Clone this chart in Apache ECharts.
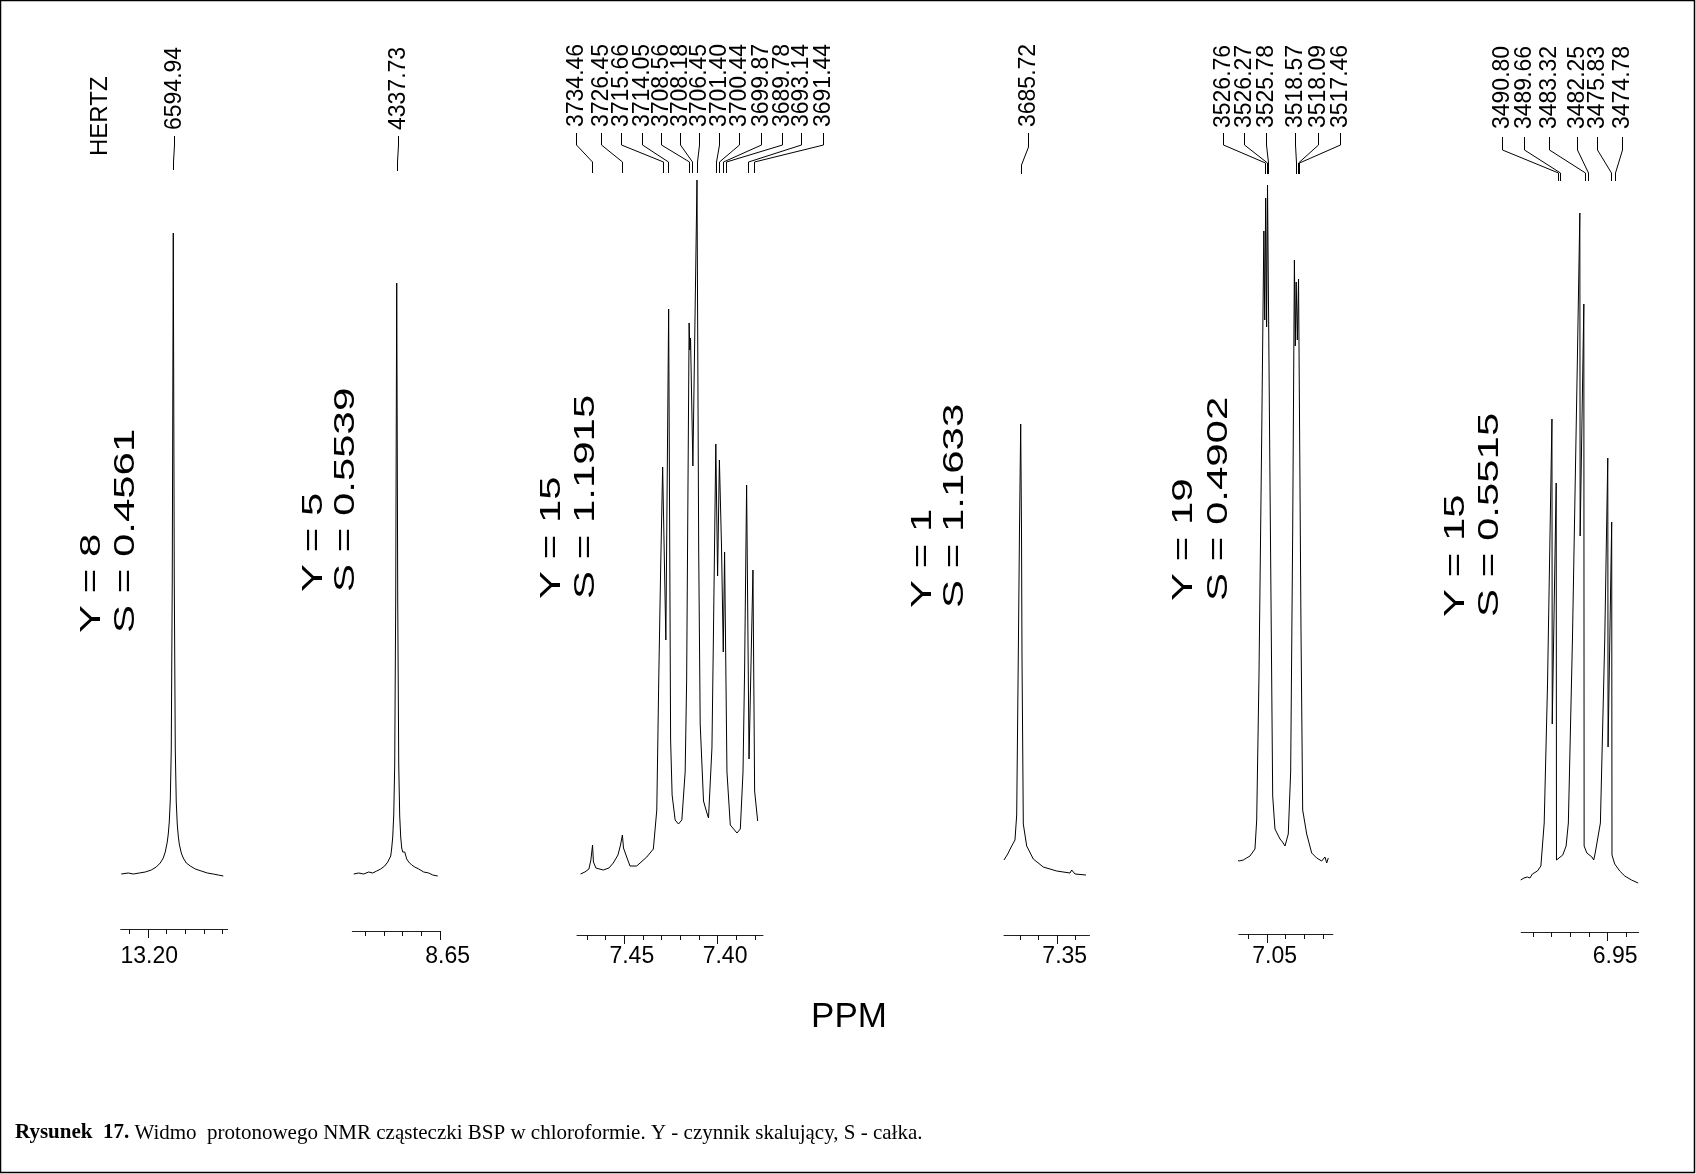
<!DOCTYPE html>
<html><head><meta charset="utf-8">
<script src="https://cdn.jsdelivr.net/npm/echarts@6/dist/echarts.min.js"></script>
<style>html,body{margin:0;padding:0;background:#fff}#c{width:1696px;height:1174px}</style>
</head><body><div id="c"></div>
<script>
// ================= DATA =================
const SF = 500.13; // spectrometer frequency: Hz per ppm

// spectra: [frequency in Hz, height]
const spec1 = [[6608.89,126],[6607.01,127],[6605.67,126],[6604.06,127],[6602.45,128],[6600.84,130],[6599.50,133],[6598.43,137],[6597.62,142],[6597.09,148],[6596.55,158],[6596.28,166],[6596.01,178],[6595.74,200],[6595.48,250],[6595.21,420],[6595.07,600],[6594.94,767],[6594.81,600],[6594.67,420],[6594.40,250],[6594.14,198],[6593.87,176],[6593.60,164],[6593.33,156],[6592.79,147],[6592.26,142],[6591.45,137],[6590.38,134],[6589.04,131],[6587.43,129],[6585.82,127],[6584.21,126],[6582.87,125],[6581.53,124]];
const spec2 = [[4349.26,126],[4347.92,127],[4346.58,126],[4345.24,128],[4344.17,127],[4343.09,129],[4342.02,131],[4340.95,134],[4340.14,138],[4339.61,139],[4339.34,144],[4339.07,152],[4338.80,163],[4338.53,185],[4338.27,235],[4338.00,400],[4337.86,570],[4337.73,717],[4337.60,570],[4337.46,400],[4337.19,235],[4336.93,184],[4336.66,163],[4336.39,152],[4336.12,148],[4335.85,150],[4335.58,148],[4335.05,141],[4334.51,138],[4333.71,135],[4332.90,133],[4331.83,131],[4330.49,128],[4329.15,127],[4328.07,125],[4326.73,124]];
const spec3 = [[3737.67,126],[3736.51,128],[3735.43,131],[3734.90,140],[3734.46,155],[3734.22,138],[3733.55,132],[3731.59,130],[3730.06,132],[3728.90,137],[3727.64,145],[3726.96,155],[3726.45,165],[3726.16,152],[3725.30,143],[3724.41,134],[3722.61,134],[3719.92,143],[3718.15,151],[3717.23,190],[3716.69,324],[3716.20,430],[3715.66,533],[3714.80,360],[3714.05,691],[3713.52,260],[3713.12,205],[3712.31,180],[3711.42,176],[3710.51,180],[3709.62,228],[3709.22,320],[3708.56,677],[3708.37,650],[3708.18,662],[3707.55,534],[3706.45,820],[3705.99,450],[3705.59,276],[3704.70,199],[3703.79,187],[3703.36,182],[3702.44,252],[3702.09,350],[3701.40,556],[3700.92,424],[3700.44,540],[3699.87,453],[3699.40,348],[3699.05,448],[3698.41,228],[3697.52,175],[3695.72,167],[3694.83,171],[3694.11,228],[3693.68,330],[3693.14,515],[3692.49,241],[3691.44,430],[3690.99,209],[3690.18,179]];
const spec4 = [[3690.20,140],[3689.20,146],[3688.13,154],[3687.25,160],[3686.79,185],[3686.36,345],[3686.04,470],[3685.72,576],[3685.50,470],[3685.37,345],[3685.02,176],[3684.11,154],[3682.34,141],[3679.66,133],[3676.07,129],[3672.50,127],[3672.04,130],[3671.16,126],[3668.21,125]];
const spec5 = [[3534.50,141],[3533.40,139],[3532.28,140],[3531.40,142],[3530.48,144],[3529.14,151],[3528.68,180],[3528.07,324],[3527.34,563],[3526.76,769],[3526.52,680],[3526.27,802],[3526.02,673],[3525.78,815],[3525.12,520],[3524.39,204],[3523.78,171],[3522.43,161],[3521.76,158],[3521.09,154],[3520.21,166],[3519.57,228],[3519.03,467],[3518.57,740],[3518.33,654],[3518.09,718],[3517.78,660],[3517.46,721],[3516.80,371],[3516.35,190],[3515.27,166],[3513.93,147],[3512.59,142],[3511.25,139],[3510.37,143],[3509.91,137],[3509.48,142]];
const spec6 = [[3499.17,120],[3498.30,122],[3497.39,123],[3496.70,122],[3496.04,126],[3494.69,129],[3493.77,134],[3492.88,177],[3491.99,315],[3491.39,450],[3490.80,581],[3490.72,276],[3489.66,517],[3489.58,140],[3489.10,138],[3487.90,145],[3487.00,154],[3486.40,177],[3485.30,361],[3484.00,636],[3483.32,787],[3483.24,464],[3482.25,696],[3482.17,154],[3481.44,147],[3480.09,143],[3479.60,140],[3479.20,147],[3477.81,177],[3476.64,361],[3475.83,542],[3475.75,253],[3474.78,478],[3474.70,145],[3473.97,136],[3472.62,129],[3471.27,124],[3469.47,120],[3467.68,117]];

// peak labels (Hz) and where their leader lines end (Hz)
const labels1 = ['6594.94'];
const labels2 = ['4337.73'];
const labels3 = ['3734.46','3726.45','3715.66','3714.05','3708.56','3708.18','3706.45','3701.40','3700.44','3699.87','3689.78','3693.14','3691.44'];
const labels4 = ['3685.72'];
const labels5 = ['3526.76','3526.27','3525.78','3518.57','3518.09','3517.46'];
const labels6 = ['3490.80','3489.66','3483.32','3482.25','3475.83','3474.78'];
const lead1 = [6594.94];
const lead2 = [4337.73];
const lead3 = [3734.55,3726.64,3715.62,3714.11,3708.55,3707.82,3706.48,3701.30,3700.49,3699.60,3698.71,3692.70,3691.09];
const lead4 = [3685.72];
const lead5 = [3526.46,3526.00,3525.57,3518.14,3517.69,3517.26];
const lead6 = [3489.15,3488.53,3481.84,3481.12,3475.05,3473.82];

// ppm axis ticks and labelled ticks
const ticks1 = [13.21,13.20,13.19,13.18,13.17,13.16], major1 = [13.20];
const ticks2 = [8.69,8.68,8.67,8.66,8.65], major2 = [8.65];
const ticks3 = [7.47,7.46,7.45,7.44,7.43,7.42,7.41,7.40,7.39,7.38], major3 = [7.45,7.40];
const ticks4 = [7.37,7.36,7.35,7.34], major4 = [7.35];
const ticks5 = [7.06,7.05,7.04,7.03,7.02], major5 = [7.05];
const ticks6 = [6.99,6.98,6.97,6.96,6.95,6.94], major6 = [6.95];

// scaling factor Y and integral S for each region
const scaleY = ['Y = 8','Y = 5','Y = 15','Y = 1','Y = 19','Y = 15'];
const integS = ['S = 0.4561','S = 0.5539','S = 1.1915','S = 1.1633','S = 0.4902','S = 0.5515'];

const unitTop = 'HERTZ';
const axisName = 'PPM';
const captionBold = 'Rysunek  17.';
const captionText = ' Widmo  protonowego NMR cząsteczki BSP w chloroformie. Y - czynnik skalujący, S - całka.';

// ================= LAYOUT =================
const PX_PER_PPM = 1865;
const GTOP = 40;
const LABEL_Y = 957;
const panels = [
  {spec:spec1, labels:labels1, lead:lead1, ticks:ticks1, major:major1, axL:120.7, axR:227.7, axY:929, ref:13.20, refX:148,
   slots:[174], ly:[136,145,162,170], tb:130, ys:[92,125.5,633]},
  {spec:spec2, labels:labels2, lead:lead2, ticks:ticks2, major:major2, axL:352.3, axR:440, axY:931, ref:8.65, refX:440,
   slots:[398], ly:[136,145,162,171], tb:130, ys:[313.7,346,592]},
  {spec:spec3, labels:labels3, lead:lead3, ticks:ticks3, major:major3, axL:577, axR:763, axY:935, ref:7.45, refX:624.2,
   slots:[576,600.5,621,641.5,660.7,680,699.3,719,739.3,760.5,781.5,800.5,822.5], ly:[133,145,162,173], tb:127, ys:[551.6,586,599]},
  {spec:spec4, labels:labels4, lead:lead4, ticks:ticks4, major:major4, axL:1004, axR:1089.5, axY:935, ref:7.35, refX:1057.1,
   slots:[1027.5], ly:[133,147,165,174], tb:127, ys:[922.6,955,608]},
  {spec:spec5, labels:labels5, lead:lead5, ticks:ticks5, major:major5, axL:1238.8, axR:1332.8, axY:934, ref:7.05, refX:1267,
   slots:[1223.3,1244.3,1266,1295,1318.3,1340], ly:[133,145,163,174], tb:128, ys:[1184,1219,601]},
  {spec:spec6, labels:labels6, lead:lead6, ticks:ticks6, major:major6, axL:1521.2, axR:1638.6, axY:932, ref:6.95, refX:1607.5,
   slots:[1501.7,1524,1549,1576.7,1596.7,1621.7], ly:[137,150,173,181], tb:129, ys:[1456,1490,617]}
];

const FONT = '"Liberation Sans", Arial, sans-serif';
const grid = [], xAxis = [], yAxis = [], series = [];
panels.forEach((p, i) => {
  const maxPpm = p.ref + (p.refX - p.axL) / PX_PER_PPM;
  const minPpm = p.ref - (p.axR - p.refX) / PX_PER_PPM;
  grid.push({left:p.axL, top:GTOP, width:p.axR - p.axL, height:p.axY - GTOP, containLabel:false, show:false});
  // minor ticks + axis line
  xAxis.push({type:'value', gridIndex:i, position:'bottom', inverse:true, min:minPpm, max:maxPpm,
    axisLine:{show:true, onZero:false, lineStyle:{color:'#222', width:1}},
    axisTick:{show:true, inside:false, length:5, customValues:p.ticks, lineStyle:{color:'#111', width:1}},
    axisLabel:{show:false}, splitLine:{show:false}});
  // labelled (major) ticks; label text right-aligned a little right of its tick
  xAxis.push({type:'value', gridIndex:i, position:'bottom', inverse:true, min:minPpm, max:maxPpm,
    axisLine:{show:false, onZero:false},
    axisTick:{show:true, inside:false, length:9, customValues:p.major, lineStyle:{color:'#111', width:1}},
    axisLabel:{show:true, customValues:p.major, margin:LABEL_Y - 11.5 - p.axY,
      formatter: v => '{a|' + v.toFixed(2) + '}',
      rich:{a:{width:60, align:'right', fontSize:23, fontFamily:FONT, color:'#000'}}},
    splitLine:{show:false}});
  yAxis.push({type:'value', gridIndex:i, min:1000 - p.axY, max:1000 - GTOP, show:false});
  series.push({type:'line', xAxisIndex:2*i, yAxisIndex:i, showSymbol:false, symbol:'none', silent:true,
    lineStyle:{color:'#000', width:1}, data:p.spec.map(d => [d[0] / SF, d[1]]), animation:false});
  // peak labels with leader lines
  series.push({type:'custom', xAxisIndex:2*i, yAxisIndex:i, silent:true, animation:false, clip:false,
    data:p.lead.map((hz, k) => [hz / SF, 0, k]),
    encode:{x:0, y:1},
    renderItem:(params, api) => {
      const k = api.value(2);
      const tx = Math.round(api.coord([api.value(0), 0])[0]) + 0.5;
      const sx = Math.round(p.slots[k]) + 0.5;
      const L = p.ly;
      return {type:'group', children:[
        {type:'polyline', shape:{points:[[sx, L[0]], [sx, L[1]], [tx, L[2]], [tx, L[3]]]},
         style:{stroke:'#000', lineWidth:1, fill:null}},
        {type:'text', x:sx, y:p.tb, rotation:Math.PI/2,
         style:{text:p.labels[k], font:'23px ' + FONT, fill:'#000', align:'left', verticalAlign:'middle'}}
      ]};
    }});
});

const SERIF = '"Liberation Serif", "Times New Roman", serif';
const graphic = [
  {type:'rect', shape:{x:0.5, y:0.5, width:1694, height:1172}, style:{fill:null, stroke:'#000', lineWidth:1.5}, silent:true},
  {type:'text', x:100, y:156, rotation:Math.PI/2, style:{text:unitTop, font:'24px ' + FONT, fill:'#000', align:'left', verticalAlign:'middle'}},
  {type:'text', x:849, y:1017, style:{text:axisName, font:'35px ' + FONT, fill:'#000', align:'center', verticalAlign:'middle'}},
  {type:'text', x:15, y:1133, style:{text:'{b|' + captionBold + '}' + captionText, font:'21px ' + SERIF, fill:'#000', verticalAlign:'middle',
    rich:{b:{fontWeight:'bold', fontSize:21, fontFamily:SERIF}}}}
];
panels.forEach((p, i) => {
  graphic.push({type:'text', x:p.ys[0], y:p.ys[2], rotation:Math.PI/2, scaleX:1.4,
    style:{text:scaleY[i], font:'30px ' + FONT, fill:'#000', align:'left', verticalAlign:'middle'}});
  graphic.push({type:'text', x:p.ys[1], y:p.ys[2], rotation:Math.PI/2, scaleX:1.4,
    style:{text:integS[i], font:'30px ' + FONT, fill:'#000', align:'left', verticalAlign:'middle'}});
});

const chart = echarts.init(document.getElementById('c'), null, {renderer:'canvas'});
chart.setOption({animation:false, backgroundColor:'#fff', grid, xAxis, yAxis, series, graphic});
</script></body></html>
